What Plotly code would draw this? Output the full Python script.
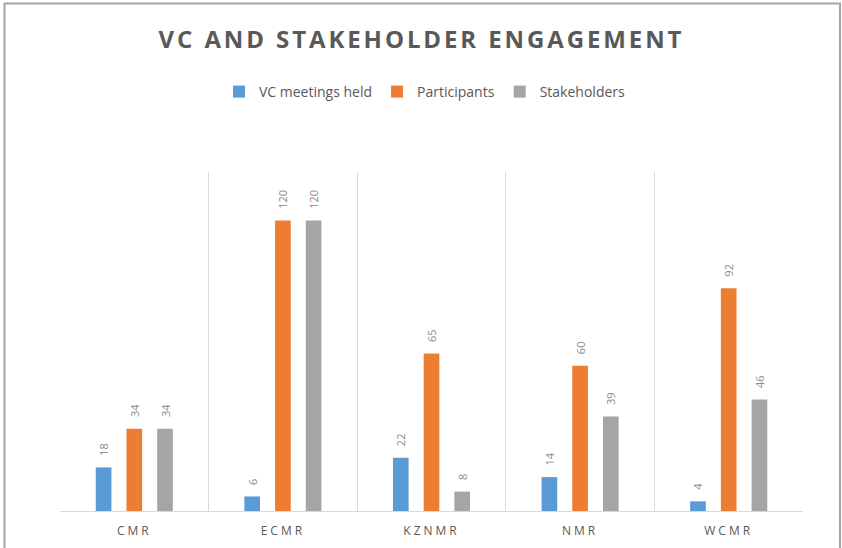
import plotly.graph_objects as go

categories = ["CMR", "ECMR", "KZNMR", "NMR", "WCMR"]
vc_meetings = [18, 6, 22, 14, 4]
participants = [34, 120, 65, 60, 92]
stakeholders = [34, 120, 8, 39, 46]

series = [
    ("VC meetings held", vc_meetings, "#5B9BD5"),
    ("Participants", participants, "#ED7D31"),
    ("Stakeholders", stakeholders, "#A5A5A5"),
]

W, H = 842, 548
L, R, T, B = 60, 39, 172, 37
pw, ph = W - L - R, H - T - B

PAD = "\u00a0\u00a0\u00a0"

fig = go.Figure()
for name, vals, col in series:
    fig.add_trace(go.Bar(
        name=name, x=categories, y=vals,
        marker=dict(color=col, line=dict(width=0)),
        text=[PAD + str(v) for v in vals], textposition="outside",
        textangle=-90, cliponaxis=False, constraintext="none",
        textfont=dict(family="Open Sans", size=11, color="#8a8a8a"),
    ))

def px_x(p):
    return (p - L) / pw

def px_y(p):
    return (H - B - p) / ph

fig.update_layout(
    width=W, height=H,
    margin=dict(l=L, r=R, t=T, b=B, autoexpand=False),
    paper_bgcolor="white", plot_bgcolor="white",
    barmode="group", bargap=0.38, bargroupgap=0.49,
    title=dict(
        text='<span style="letter-spacing:2.9px">VC AND STAKEHOLDER ENGAGEMENT</span>',
        xref="container", x=421.5 / W, xanchor="center", y=1 - 40 / H, yanchor="middle",
        font=dict(family="Open Sans", size=24, color="#595959", weight="bold"),
    ),
    legend=dict(
        orientation="h", x=px_x(425), xanchor="center", y=px_y(92), yanchor="middle",
        font=dict(family="Open Sans", size=14, color="#595959"),
        itemwidth=30, traceorder="normal",
    ),
    showlegend=True,
    xaxis=dict(
        type="category", tickson="boundaries", showgrid=True, gridcolor="#d9d9d9",
        gridwidth=1, showline=True, linecolor="#d9d9d9", ticks="",
        tickvals=categories,
        ticktext=['<span style="letter-spacing:3px">%s</span>' % c for c in categories],
        tickfont=dict(family="Open Sans", size=12, color="#595959"),
        ticklabelstandoff=9, automargin=False,
        range=[-0.5, 4.5], fixedrange=True,
    ),
    yaxis=dict(range=[0, 140], visible=False, showgrid=False, zeroline=False,
               automargin=False),
    shapes=[dict(
        type="rect", xref="paper", yref="paper",
        x0=px_x(4.5), x1=px_x(840), y0=px_y(552), y1=px_y(3.5),
        line=dict(color="#a6a6a6", width=2), fillcolor="rgba(0,0,0,0)", layer="below",
    )],
)

fig.write_html(
    "out.html",
    config={"displayModeBar": False},
    post_script="document.body.style.margin='0px';document.body.style.overflow='hidden';",
)
